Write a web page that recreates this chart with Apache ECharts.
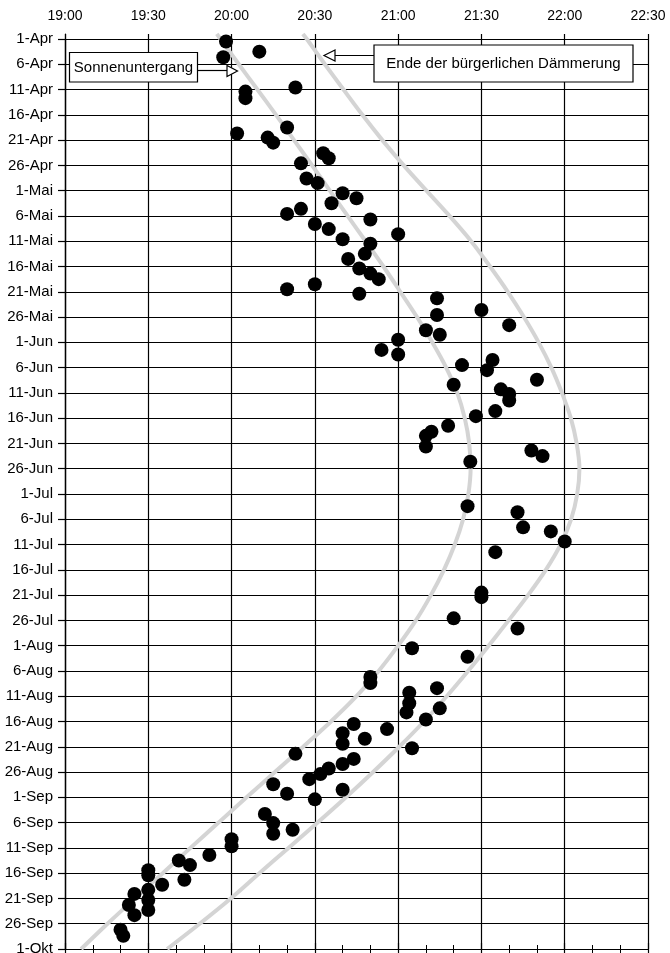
<!DOCTYPE html>
<html>
<head>
<meta charset="utf-8">
<script src="https://cdn.jsdelivr.net/npm/echarts@6/dist/echarts.min.js"></script>
<style>
html,body{margin:0;padding:0;background:#fff;}
#chart{width:670px;height:953px;}
</style>
</head>
<body>
<div id="chart"></div>
<script>
// y axis: one row per label, 5 axis units per row (1-Apr = 0 ... 1-Okt = 180)
const dateLabels = ['1-Apr','6-Apr','11-Apr','16-Apr','21-Apr','26-Apr','1-Mai','6-Mai','11-Mai','16-Mai','21-Mai','26-Mai','1-Jun','6-Jun','11-Jun','16-Jun','21-Jun','26-Jun','1-Jul','6-Jul','11-Jul','16-Jul','21-Jul','26-Jul','1-Aug','6-Aug','11-Aug','16-Aug','21-Aug','26-Aug','1-Sep','6-Sep','11-Sep','16-Sep','21-Sep','26-Sep','1-Okt'];
// x axis tick labels (every 30 minutes from 19:00)
const timeLabels = ['19:00','19:30','20:00','20:30','21:00','21:30','22:00','22:30'];

// observations: clock time and position on the date axis
const obsTime = ['19:58','19:57','20:10','20:05','20:05','20:23','20:02','20:13','20:15','20:20',
  '20:25','20:33','20:35','20:27','20:31','20:36','20:20','20:25','20:30','20:35',
  '20:40','20:45','20:50','20:40','21:00','20:50','20:48','20:42','20:46','20:50',
  '20:53','20:20','20:30','20:46','21:14','21:14','21:30','21:10','21:15','21:40',
  '21:00','21:00','20:54','21:23','21:34','21:32','21:50','21:20','21:37','21:40',
  '21:40','21:35','21:28','21:18','21:12','21:10','21:10','21:26','21:48','21:52',
  '21:25','21:43','21:45','21:55','22:00','21:35','21:30','21:30','21:20','21:43',
  '21:05','21:25','20:50','20:50','21:04','21:04','21:03','21:14','21:15','21:10',
  '21:05','20:44','20:40','20:40','20:48','20:56','20:23','20:44','20:40','20:35',
  '20:32','20:28','20:40','20:15','20:20','20:30','20:12','20:15','20:15','20:22',
  '20:00','20:00','19:52','19:41','19:45','19:43','19:30','19:30','19:35','19:30',
  '19:30','19:30','19:25','19:23','19:25','19:20','19:21'];
const obsDay = [0.5,3.6,2.5,10.4,11.7,9.6,18.7,19.5,20.5,17.5,
  24.6,22.6,23.6,27.6,28.5,32.5,34.6,33.6,36.6,37.6,
  30.5,31.5,35.7,39.6,38.6,40.5,42.5,43.5,45.4,46.4,
  47.5,49.5,48.5,50.4,51.3,54.6,53.6,57.6,58.5,56.6,
  59.5,62.4,61.5,64.5,63.5,65.5,67.4,68.4,69.3,70.2,
  71.5,73.6,74.6,76.5,77.7,78.5,80.6,83.6,81.4,82.5,
  92.4,93.6,96.6,97.4,99.4,101.5,109.5,110.4,114.6,116.6,
  120.5,122.2,126.2,127.4,129.3,131.4,133.2,128.4,132.4,134.6,
  140.3,135.5,137.3,139.4,138.4,136.5,141.4,142.4,143.4,144.3,
  145.4,146.4,148.5,147.4,149.3,150.4,153.3,155.1,157.2,156.4,
  158.3,159.7,161.4,162.5,163.4,166.3,164.4,165.4,167.3,168.3,
  170.3,172.3,169.1,171.3,173.3,176.2,177.4];

// reference curves: minutes after 19:00 at positions on the date axis
const curveDay = [-1,0,5,10,15,20,25,30,35,40,45,50,55,60,65,70,75,80,85,90,95,100,105,110,115,120,125,130,135,140,145,150,155,160,165,170,175,180];
const sunsetMin = [54.7,56.0,62.6,69.3,76.0,82.5,89.0,95.4,101.8,108.3,114.7,120.8,126.8,132.3,137.3,141.3,144.0,145.6,146.1,145.3,143.4,140.4,136.5,131.8,126.4,120.0,113.0,105.0,95.8,85.8,75.6,65.4,55.3,45.2,35.2,25.2,15.3,5.8];
const twilightMin = [85.7,87.1,93.6,100.3,107.1,114.3,122.0,130.2,138.5,146.3,153.1,159.5,165.3,170.6,175.2,179.0,182.2,184.3,185.3,184.5,182.3,178.5,173.2,166.8,159.8,152.6,145.2,137.5,129.3,120.4,111.0,101.2,91.0,80.5,70.0,59.7,48.5,36.8];

function toMin(t){ const p = t.split(':'); return (+p[0] - 19) * 60 + (+p[1]); }

const FONT = '"Liberation Sans", Arial, Helvetica, sans-serif';
const black = '#000';

const chart = echarts.init(document.getElementById('chart'), null, {renderer:'canvas'});

const option = {
  backgroundColor: '#fff',
  animation: false,
  textStyle: {fontFamily: FONT},
  grid: [
    {left: 65, right: 22, top: 39, bottom: 4, outerBoundsMode: 'none', containLabel: false},
    {left: 65, right: 22, top: 34, bottom: 4, outerBoundsMode: 'none', containLabel: false}
  ],
  xAxis: [
    {gridIndex: 0, type: 'value', min: 0, max: 210, interval: 30, show: false},
    {gridIndex: 1, type: 'value', position: 'top', min: 0, max: 210, interval: 30,
      axisLine: {show: true, lineStyle: {color: black, width: 1.2}},
      axisTick: {show: true, length: 6, lineStyle: {color: black, width: 1.2}},
      minorTick: {show: true, splitNumber: 3, length: 4, lineStyle: {color: black, width: 1}},
      splitLine: {show: true, lineStyle: {color: black, width: 1.2}},
      axisLabel: {show: true, color: black, fontSize: 14, fontFamily: FONT, margin: 11,
        formatter: v => timeLabels[Math.round(v / 30)]}
    },
    {gridIndex: 1, type: 'value', position: 'bottom', min: 0, max: 210, interval: 30,
      axisLine: {show: true, lineStyle: {color: black, width: 1.2}},
      axisTick: {show: true, length: 5, lineStyle: {color: black, width: 1.2}},
      minorTick: {show: true, splitNumber: 3, length: 5, lineStyle: {color: black, width: 1}},
      splitLine: {show: false},
      axisLabel: {show: false}
    }
  ],
  yAxis: [
    {gridIndex: 0, type: 'value', inverse: true, min: 0, max: 180, interval: 5,
      axisLine: {show: true, lineStyle: {color: black, width: 1.2}},
      axisTick: {show: true, length: 7, lineStyle: {color: black, width: 1.2}},
      splitLine: {show: true, lineStyle: {color: black, width: 1.2}},
      axisLabel: {show: true, color: black, fontSize: 15, fontFamily: FONT, margin: 12,
        formatter: v => dateLabels[Math.round(v / 5)]}
    },
    {gridIndex: 1, type: 'value', min: 0, max: 1,
      axisLine: {show: true, lineStyle: {color: black, width: 1.2}},
      axisTick: {show: false}, axisLabel: {show: false}, splitLine: {show: false}
    }
  ],
  series: [
    {name: 'Sonnenuntergang', type: 'line', xAxisIndex: 0, yAxisIndex: 0,
      data: curveDay.map((d, i) => [sunsetMin[i], d]),
      showSymbol: false, smooth: 0.3, clip: false,
      lineStyle: {color: '#d4d4d4', width: 4}, z: 3},
    {name: 'Ende der bürgerlichen Dämmerung', type: 'line', xAxisIndex: 0, yAxisIndex: 0,
      data: curveDay.map((d, i) => [twilightMin[i], d]),
      showSymbol: false, smooth: 0.3, clip: false,
      lineStyle: {color: '#d4d4d4', width: 4}, z: 3},
    {name: 'Beobachtung', type: 'scatter', xAxisIndex: 0, yAxisIndex: 0,
      data: obsTime.map((t, i) => [toMin(t), obsDay[i]]),
      symbol: 'circle', symbolSize: 14,
      itemStyle: {color: black, opacity: 1}, z: 5}
  ],
  graphic: [
    {type: 'rect', z: 100, shape: {x: 69.5, y: 52.5, width: 128, height: 29.5},
      style: {fill: '#fff', stroke: black, lineWidth: 1.2}},
    {type: 'text', z: 101, x: 133.5, y: 67.5,
      style: {text: 'Sonnenuntergang', fill: black, font: '15px ' + FONT, textAlign: 'center', textVerticalAlign: 'middle'}},
    {type: 'line', z: 100, shape: {x1: 197.5, y1: 70.5, x2: 227, y2: 70.5},
      style: {stroke: black, lineWidth: 1.2}},
    {type: 'polygon', z: 101, shape: {points: [[227, 65.5], [237.5, 71], [227, 76.5]]},
      style: {fill: '#fff', stroke: black, lineWidth: 1.2}},
    {type: 'rect', z: 100, shape: {x: 374, y: 45, width: 259, height: 37},
      style: {fill: '#fff', stroke: black, lineWidth: 1.2}},
    {type: 'text', z: 101, x: 503.5, y: 63.5,
      style: {text: 'Ende der bürgerlichen Dämmerung', fill: black, font: '15px ' + FONT, textAlign: 'center', textVerticalAlign: 'middle'}},
    {type: 'line', z: 100, shape: {x1: 335, y1: 55.5, x2: 374, y2: 55.5},
      style: {stroke: black, lineWidth: 1.2}},
    {type: 'polygon', z: 101, shape: {points: [[335, 50], [324, 55.5], [335, 61]]},
      style: {fill: '#fff', stroke: black, lineWidth: 1.2}}
  ]
};

chart.setOption(option);
</script>
</body>
</html>
